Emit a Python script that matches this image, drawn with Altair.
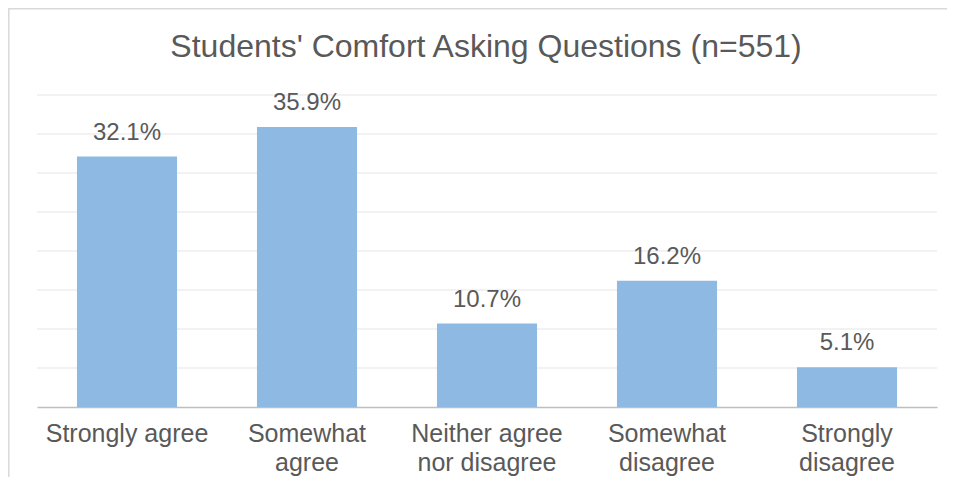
import altair as alt
import pandas as pd

categories = ["Strongly agree", "Somewhat|agree", "Neither agree|nor disagree",
              "Somewhat|disagree", "Strongly|disagree"]
values = [32.1, 35.9, 10.7, 16.2, 5.1]
grid_ticks = [5, 10, 15, 20, 25, 30, 35, 40]
title_text = "Students' Comfort Asking Questions (n=551)"

df = pd.DataFrame({"cat": categories, "val": values})
grid_df = pd.DataFrame({"g": grid_ticks})

FONT = "Liberation Sans"
TXT = "#595959"

yscale = alt.Scale(domain=[0, 40], nice=False)

xenc = alt.X("cat:N", sort=categories,
             scale=alt.Scale(paddingInner=0.444, paddingOuter=0.222),
             axis=alt.Axis(title=None, labelAngle=0, labelExpr="split(datum.label, '|')",
                           labelFont=FONT, labelFontSize=25, labelColor=TXT,
                           labelLineHeight=29, labelPadding=14, ticks=False,
                           domainColor="#BFBFBF", domainWidth=1.6, grid=False,
                           labelBaseline="top"))
yenc = alt.Y("val:Q", scale=yscale, axis=None)

grid = alt.Chart(grid_df).mark_rule(color="#EEEEEE", strokeWidth=1.3).encode(
    y=alt.Y("g:Q", scale=yscale, axis=None))

base = alt.Chart(df)
bars = base.mark_bar(color="#8DB9E2").encode(x=xenc, y=yenc)
labels = base.transform_calculate(
    lab="format(datum.val, '.1f') + '%'"
).mark_text(font=FONT, fontSize=24, color=TXT, baseline="alphabetic", dy=-17).encode(
    x=alt.X("cat:N", sort=categories), y=alt.Y("val:Q", scale=yscale), text="lab:N")

one = alt.Data(values=[{"t": title_text}])
title = alt.Chart(one).mark_text(font=FONT, fontSize=32, color=TXT, baseline="alphabetic",
                                 align="center").encode(
    x=alt.value(449), y=alt.value(-38), text="t:N")

left_border = alt.Chart(one).mark_rule(color="#D9D9D9", strokeWidth=1.5).encode(
    x=alt.value(-28.2), y=alt.value(-87), y2=alt.value(400))
top_border = alt.Chart(one).mark_rule(color="#D9D9D9", strokeWidth=1.5).encode(
    x=alt.value(-29), x2=alt.value(930), y=alt.value(-86.2))

chart = alt.layer(grid, bars, labels, title, left_border, top_border).properties(
    width=900, height=312,
    background="white",
    autosize=alt.AutoSizeParams(type="none"),
    padding={"left": 29, "top": 87, "right": 10, "bottom": 70},
).configure_view(strokeWidth=0, stroke="transparent")

chart.save("out.html", embed_options={"renderer": "svg", "actions": False})
